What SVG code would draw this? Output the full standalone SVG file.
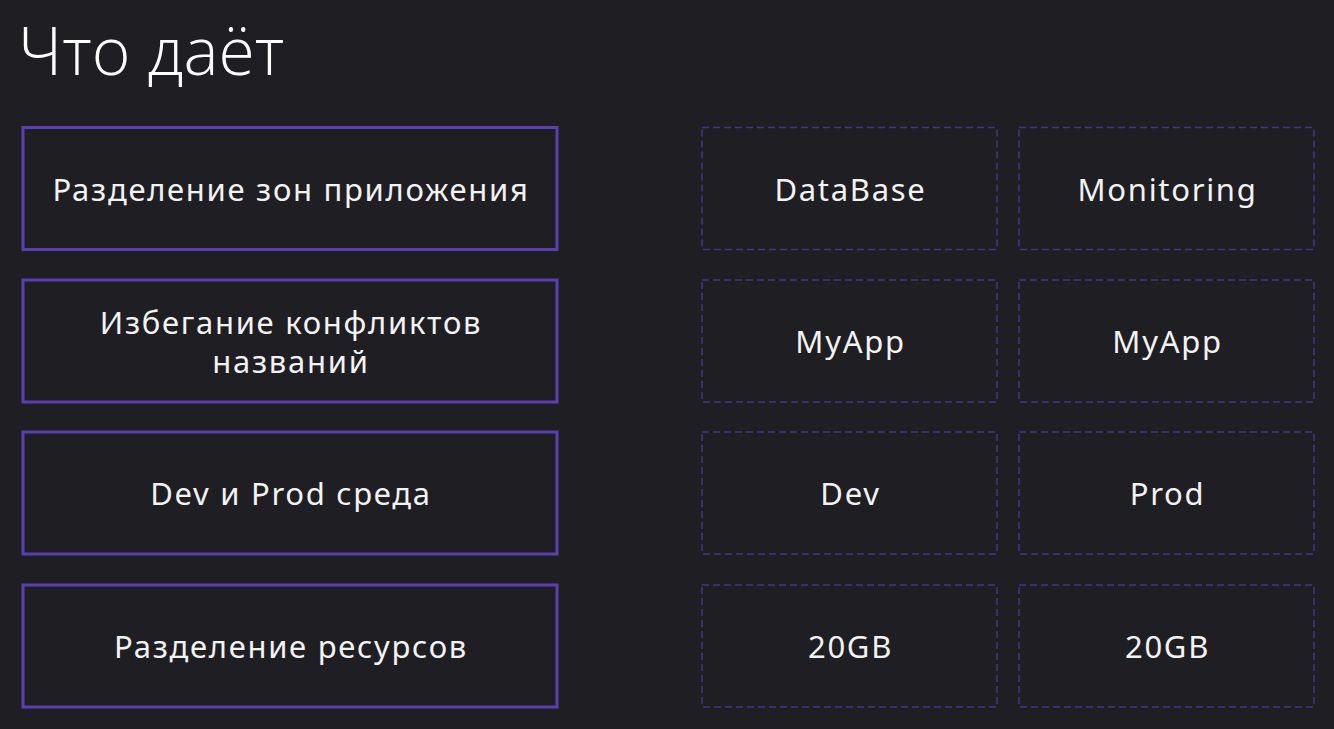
<svg xmlns="http://www.w3.org/2000/svg" width="1334" height="729" viewBox="0 0 1334 729">
<style>
.bg{fill:#1f1e23}
.solid{fill:none;stroke:#5a3fb4;stroke-width:3}
.dash{fill:none;stroke:#41358a;stroke-width:1.5;stroke-dasharray:7 4}
.t{font-family:"Noto Sans","Open Sans",sans-serif;font-size:31px;letter-spacing:1.7px;fill:#f2f2f2;text-anchor:middle;dominant-baseline:central}
.title{font-family:"Open Sans","Noto Sans",sans-serif;font-weight:300;font-size:66px;fill:#ffffff}
</style>
<rect class="bg" x="0" y="0" width="1334" height="729"/>
<text class="title" x="18" y="75">Что даёт</text>
<g id="n1"><rect class="solid" x="23" y="127.5" width="534" height="122"/><text class="t" x="291" y="188.5">Разделение зон приложения</text></g>
<g id="n2"><rect class="solid" x="23" y="280" width="534" height="122"/><text class="t" x="291" y="322">Избегание конфликтов</text><text class="t" x="291" y="361">названий</text></g>
<g id="n3"><rect class="solid" x="23" y="432" width="534" height="122"/><text class="t" x="291" y="493">Dev и Prod среда</text></g>
<g id="n4"><rect class="solid" x="23" y="585" width="534" height="122"/><text class="t" x="291" y="646">Разделение ресурсов</text></g>
<g id="d1"><rect class="dash" x="702" y="127.5" width="295" height="122"/><text class="t" x="850.5" y="188.5">DataBase</text></g>
<g id="m1"><rect class="dash" x="1019" y="127.5" width="295" height="122"/><text class="t" x="1167.5" y="188.5">Monitoring</text></g>
<g id="d2"><rect class="dash" x="702" y="280" width="295" height="122"/><text class="t" x="850.5" y="341">MyApp</text></g>
<g id="m2"><rect class="dash" x="1019" y="280" width="295" height="122"/><text class="t" x="1167.5" y="341">MyApp</text></g>
<g id="d3"><rect class="dash" x="702" y="432" width="295" height="122"/><text class="t" x="850.5" y="493">Dev</text></g>
<g id="m3"><rect class="dash" x="1019" y="432" width="295" height="122"/><text class="t" x="1167.5" y="493">Prod</text></g>
<g id="d4"><rect class="dash" x="702" y="585" width="295" height="122"/><text class="t" x="850.5" y="646">20GB</text></g>
<g id="m4"><rect class="dash" x="1019" y="585" width="295" height="122"/><text class="t" x="1167.5" y="646">20GB</text></g>
<g id="connectors"/>
</svg>
